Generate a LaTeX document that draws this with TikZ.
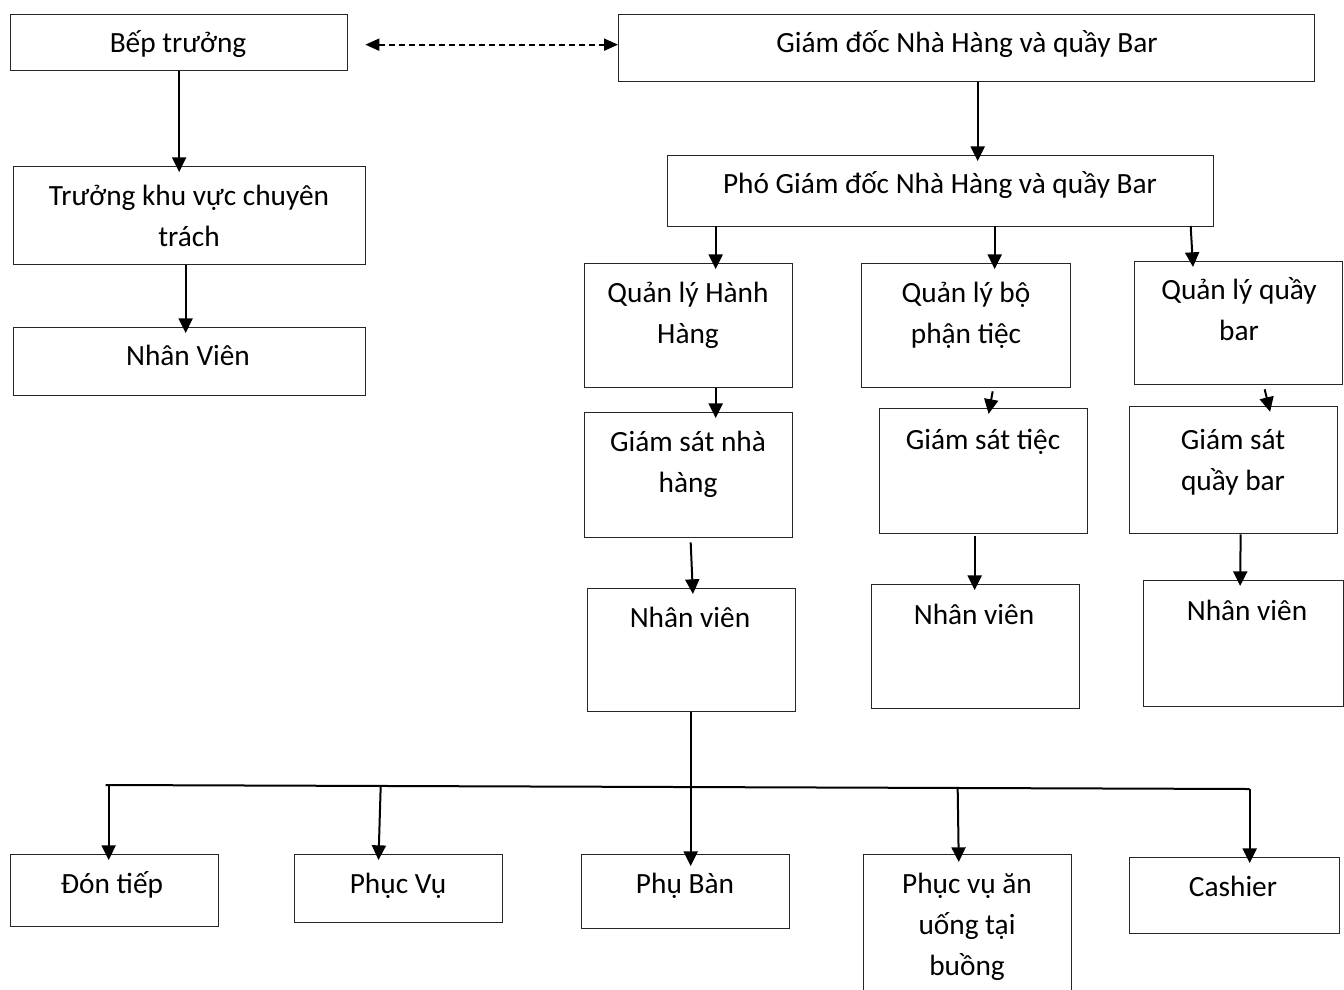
\documentclass[tikz,border=0pt]{standalone}
\usepackage{fontspec}
\setmainfont{Carlito}
\usetikzlibrary{arrows.meta,calc}
\begin{document}
\begin{tikzpicture}[x=0.75pt,y=-0.75pt,
  box/.style={draw=black!85, line width=1pt, anchor=north west, inner sep=0pt},
  sz/.style n args={2}{minimum width={#1*0.75pt}, minimum height={#2*0.75pt}},
  txt/.style={anchor=base, align=center, inner sep=0pt, font=\fontsize{22}{30.75}\selectfont},
  arr/.style={line width=1.5pt, shorten >=-4.5pt, -{Triangle[length=11pt,width=10.5pt]}},
  darr/.style={line width=1.5pt, dash pattern=on 4.5pt off 3pt, {Triangle[length=10.5pt,width=9pt]}-{Triangle[length=10.5pt,width=9pt]}},
  bus/.style={line width=1.5pt}
]
\useasboundingbox (0,0) rectangle (1344,989);
\clip (0,0) rectangle (1344,989);

% boxes
\node[box, sz={337}{56}]  (bt)   at (10,14)   {};
\node[box, sz={696}{67}]  (gd)   at (618,14)  {};
\node[box, sz={352}{98}]  (tk)   at (13,166)  {};
\node[box, sz={352}{68}]  (nvk)  at (13,327)  {};
\node[box, sz={546}{71}]  (pgd)  at (667,155) {};
\node[box, sz={208}{124}] (qhh)  at (584,263) {};
\node[box, sz={209}{124}] (qt)   at (861,263) {};
\node[box, sz={208}{123}] (qb)   at (1134,261) {};
\node[box, sz={208}{125}] (gsnh) at (584,412) {};
\node[box, sz={208}{125}] (gst)  at (879,408) {};
\node[box, sz={208}{127}] (gsb)  at (1129,406) {};
\node[box, sz={208}{123}] (nv1)  at (587,588) {};
\node[box, sz={208}{124}] (nv2)  at (871,584) {};
\node[box, sz={200}{126}] (nv3)  at (1143,580) {};
\node[box, sz={208}{72}]  (dt)   at (10,854)  {};
\node[box, sz={208}{68}]  (pv)   at (294,854) {};
\node[box, sz={208}{74}]  (pb)   at (581,854) {};
\node[box, sz={208}{145}] (pva)  at (863,854) {};
\node[box, sz={210}{76}]  (cs)   at (1129,857) {};

% texts (anchor base = baseline of last line)
\node[txt] at (178,52)  {Bếp trưởng};
\node[txt] at (967,52)  {Giám đốc Nhà Hàng và quầy Bar};
\node[txt] at (189,246) {Trưởng khu vực chuyên\\trách};
\node[txt] at (188,365) {Nhân Viên};
\node[txt] at (940,193) {Phó Giám đốc Nhà Hàng và quầy Bar};
\node[txt] at (688,343) {Quản lý Hành\\Hàng};
\node[txt] at (966,343) {Quản lý bộ\\phận tiệc};
\node[txt] at (1239,340) {Quản lý quầy\\bar};
\node[txt] at (688,492) {Giám sát nhà\\hàng};
\node[txt] at (983,449) {Giám sát tiệc};
\node[txt] at (1233,490) {Giám sát\\quầy bar};
\node[txt] at (690,627) {Nhân viên};
\node[txt] at (974,624) {Nhân viên};
\node[txt] at (1247,620) {Nhân viên};
\node[txt] at (112,893) {Đón tiếp};
\node[txt] at (398,893) {Phục Vụ};
\node[txt] at (685,893) {Phụ Bàn};
\node[txt] at (967,975) {Phục vụ ăn\\uống tại\\buồng};
\node[txt] at (1233,896) {Cashier};

% connectors
\coordinate (dl) at ($(bt.east)+(17,2)$);
\draw[darr] (dl) -- (dl -| gd.west);
\draw[arr] (bt.south) -- (bt.south |- tk.north);
\draw[arr] ($(tk.south)+(-4,0)$) -- ($(nvk.north)+(-4,0)$);
\draw[arr] ($(gd.south)+(11,0)$) -- ($(pgd.north)+(37,0)$ |- pgd.north);
\draw[arr] ($(qhh.north)+(27,-37)$) -- ($(qhh.north)+(27,0)$);
\draw[arr] ($(qt.north)+(28.5,-37)$) -- ($(qt.north)+(28.5,0)$);
\draw[arr] ($(qb.north)+(-48,-35)$) -- ($(qb.north)+(-46,0)$);
\draw[arr] ($(qhh.south)+(27,0)$) -- ($(gsnh.north)+(27,0)$);
\draw[arr] ($(qt.south)+(26.5,3)$) -- ($(gst.north)+(6,0)$);
\draw[arr] ($(qb.south)+(26,4)$) -- ($(gsb.north)+(35,0)$);
\draw[arr] ($(gsnh.south)+(2,4)$) -- ($(nv1.north)+(1,0)$);
\draw[arr] ($(gst.south)+(-9,2)$) -- ($(nv2.north)+(-1,0)$);
\draw[arr] ($(gsb.south)+(7,0)$) -- ($(nv3.north)+(-3.5,0)$);
\draw[arr] ($(nv1.south)+(-1,0)$) -- ($(pb.north)+(5,6)$);
\coordinate (busL) at ($(dt.north)+(-9,-69)$);
\coordinate (busR) at ($(cs.north)+(15,-68)$);
\draw[bus] (busL) -- (busR);
\draw[arr] (busR) -- ($(cs.north)+(15,0)$);
\draw[arr] ($(dt.north)+(-6,-68)$) -- ($(dt.north)+(-6,0)$);
\draw[arr] ($(pv.north)+(-18,-67)$) -- ($(pv.north)+(-20,0)$);
\draw[arr] ($(pva.north)+(-10,-66)$) -- ($(pva.north)+(-9,2)$);
\end{tikzpicture}
\end{document}
